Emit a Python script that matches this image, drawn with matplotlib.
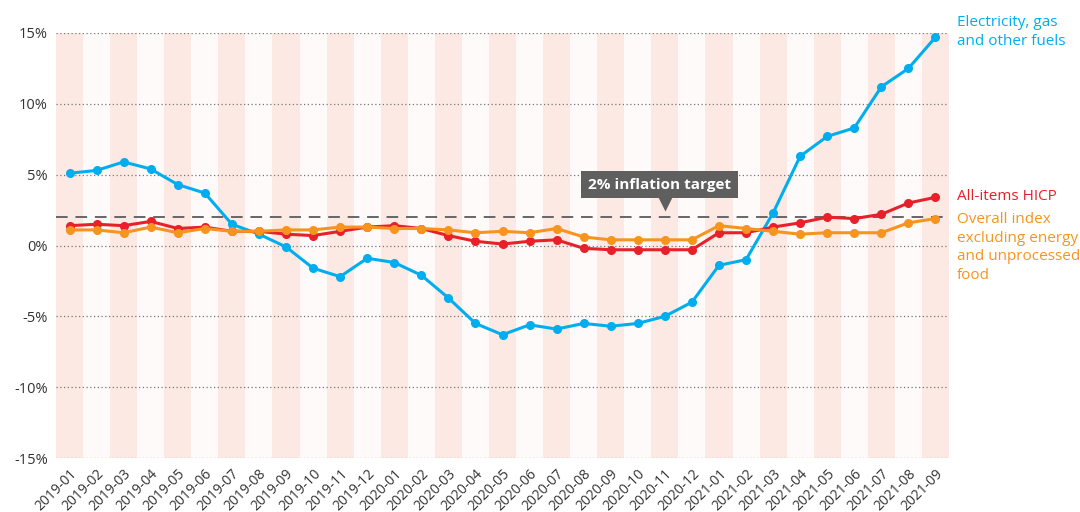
import matplotlib
matplotlib.use('Agg')
import matplotlib.pyplot as plt

plt.rcParams['font.family'] = ['Open Sans', 'DejaVu Sans']

# Data (annual rate of change, %)
months = ['2019-01', '2019-02', '2019-03', '2019-04', '2019-05', '2019-06',
          '2019-07', '2019-08', '2019-09', '2019-10', '2019-11', '2019-12',
          '2020-01', '2020-02', '2020-03', '2020-04', '2020-05', '2020-06',
          '2020-07', '2020-08', '2020-09', '2020-10', '2020-11', '2020-12',
          '2021-01', '2021-02', '2021-03', '2021-04', '2021-05', '2021-06',
          '2021-07', '2021-08', '2021-09']
energy = [5.1, 5.3, 5.9, 5.4, 4.3, 3.7, 1.5, 0.8, -0.1, -1.6, -2.2, -0.9,
          -1.2, -2.1, -3.7, -5.5, -6.3, -5.6, -5.9, -5.5, -5.7, -5.5, -5.0, -4.0,
          -1.4, -1.0, 2.3, 6.3, 7.7, 8.3, 11.2, 12.5, 14.7]
hicp = [1.4, 1.5, 1.4, 1.7, 1.2, 1.3, 1.0, 1.0, 0.8, 0.7, 1.0, 1.3,
        1.4, 1.2, 0.7, 0.3, 0.1, 0.3, 0.4, -0.2, -0.3, -0.3, -0.3, -0.3,
        0.9, 0.9, 1.3, 1.6, 2.0, 1.9, 2.2, 3.0, 3.4]
core = [1.1, 1.1, 0.9, 1.3, 0.9, 1.2, 1.0, 1.0, 1.1, 1.1, 1.3, 1.3,
        1.2, 1.2, 1.1, 0.9, 1.0, 0.9, 1.2, 0.6, 0.4, 0.4, 0.4, 0.4,
        1.4, 1.2, 1.0, 0.8, 0.9, 0.9, 0.9, 1.6, 1.9]
target = 2.0
yticks = [-15, -10, -5, 0, 5, 10, 15]

blue = '#00aeef'
red = '#e8202a'
orange = '#f7941d'

fig = plt.figure(figsize=(10.8, 5.12), dpi=100)
ax = fig.add_axes([56 / 1080, 1 - 458 / 512, 893 / 1080, 425 / 512])

x = list(range(len(months)))

# alternating background bands
for i in x:
    ax.axvspan(i - 0.5, i + 0.5, color='#fce9e3' if i % 2 == 0 else '#fdfaf9',
               lw=0, zorder=0)

# dotted grid
for t in yticks:
    ax.axhline(t, color='#777777', lw=0.9, ls=(0, (1, 2)), zorder=1)

# target line
ax.axhline(target, color='#666666', lw=1.4, ls=(0, (6, 4)), zorder=2)

ax.plot(x, energy, color=blue, lw=2.2, marker='o', ms=5.5, zorder=3)
ax.plot(x, hicp, color=red, lw=2.2, marker='o', ms=5.5, zorder=4)
ax.plot(x, core, color=orange, lw=2.2, marker='o', ms=5.5, zorder=5)

# annotation box
ax.text(21.8, 4.3, '2% inflation target', color='white', fontsize=11,
        fontweight='bold', ha='center', va='center', zorder=6,
        bbox=dict(boxstyle='square,pad=0.45', fc='#5f5f5f', ec='none'))
ax.plot([22], [3.0], marker='v', ms=11, color='#5f5f5f', mec='none', zorder=6)

ax.set_xlim(-0.5, len(months) - 0.5)
ax.set_ylim(-15, 15)
ax.set_yticks(yticks)
ax.set_yticklabels([f'{t}%' for t in yticks], fontsize=10.5, color='#333333')
ax.set_xticks(x)
ax.set_xticklabels(months, rotation=45, ha='right', rotation_mode='anchor',
                   fontsize=10, color='#333333')
ax.tick_params(length=0, pad=6)
for s in ax.spines.values():
    s.set_visible(False)

# series labels on the right
fig.text(957 / 1080, 1 - 15 / 512, 'Electricity, gas\nand other fuels',
         color=blue, fontsize=11, va='top', ha='left', linespacing=1.32)
fig.text(957 / 1080, 1 - 196 / 512, 'All-items HICP', color=red, fontsize=11,
         va='center', ha='left')
fig.text(957 / 1080, 1 - 212 / 512,
         'Overall index\nexcluding energy\nand unprocessed\nfood',
         color=orange, fontsize=11, va='top', ha='left', linespacing=1.32)

fig.savefig('out.png', dpi=100)
